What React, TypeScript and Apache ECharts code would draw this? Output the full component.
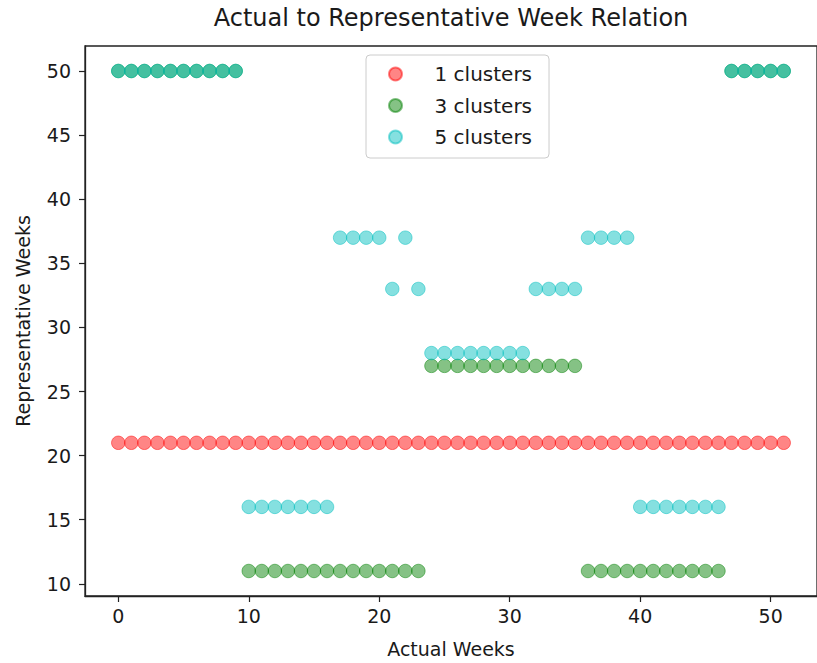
import React, { useEffect, useRef } from "react";
import * as echarts from "echarts";

// Actual week index (x) for every sample
const actualWeeks = [
  0, 1, 2, 3, 4, 5, 6, 7, 8, 9, 10, 11, 12, 13, 14, 15, 16, 17, 18, 19, 20, 21, 22, 23, 24, 25,
  26, 27, 28, 29, 30, 31, 32, 33, 34, 35, 36, 37, 38, 39, 40, 41, 42, 43, 44, 45, 46, 47, 48, 49, 50, 51,
];

// Representative week assigned to each actual week
const oneCluster = [
  21, 21, 21, 21, 21, 21, 21, 21, 21, 21, 21, 21, 21, 21, 21, 21, 21, 21, 21, 21, 21, 21, 21, 21, 21, 21,
  21, 21, 21, 21, 21, 21, 21, 21, 21, 21, 21, 21, 21, 21, 21, 21, 21, 21, 21, 21, 21, 21, 21, 21, 21, 21,
];
const threeClusters = [
  50, 50, 50, 50, 50, 50, 50, 50, 50, 50, 11, 11, 11, 11, 11, 11, 11, 11, 11, 11, 11, 11, 11, 11, 27, 27,
  27, 27, 27, 27, 27, 27, 27, 27, 27, 27, 11, 11, 11, 11, 11, 11, 11, 11, 11, 11, 11, 50, 50, 50, 50, 50,
];
const fiveClusters = [
  50, 50, 50, 50, 50, 50, 50, 50, 50, 50, 16, 16, 16, 16, 16, 16, 16, 37, 37, 37, 37, 33, 37, 33, 28, 28,
  28, 28, 28, 28, 28, 28, 33, 33, 33, 33, 37, 37, 37, 37, 16, 16, 16, 16, 16, 16, 16, 50, 50, 50, 50, 50,
];

const seriesNames = ["1 clusters", "3 clusters", "5 clusters"];
const seriesValues = [oneCluster, threeClusters, fiveClusters];
const seriesColors = ["rgba(255,0,0,0.6)", "rgba(0,128,0,0.6)", "rgba(0,191,191,0.6)"];

const xTicks = [0, 10, 20, 30, 40, 50];
const yTicks = [10, 15, 20, 25, 30, 35, 40, 45, 50];

const FONT = "DejaVu Sans";
const INK = "#1a1a1a";

export default function App() {
  const ref = useRef<HTMLDivElement>(null);

  useEffect(() => {
    if (!ref.current) return;
    const chart = echarts.init(ref.current, undefined, { renderer: "svg" });

    const series = seriesNames.map((name, s) => ({
      name,
      type: "scatter",
      symbol: "circle",
      symbolSize: 13.5,
      itemStyle: {
        color: seriesColors[s],
        borderColor: seriesColors[s],
        borderWidth: 1,
      },
      data: actualWeeks.map((w, i) => [w, seriesValues[s][i]]),
    }));

    const tickStyle = { color: "#222", width: 1.2 };

    chart.setOption({
      animation: false,
      backgroundColor: "#ffffff",
      textStyle: { fontFamily: FONT },
      title: {
        text: "Actual to Representative Week Relation",
        left: 451,
        top: 6,
        padding: 0,
        textAlign: "center",
        textStyle: { fontFamily: FONT, fontSize: 24, fontWeight: "normal", color: INK },
      },
      legend: {
        orient: "vertical",
        left: 366,
        top: 55,
        padding: [9, 17, 11, 22],
        itemGap: 11.5,
        itemWidth: 24,
        itemHeight: 13,
        icon: "circle",
        backgroundColor: "rgba(255,255,255,0.8)",
        borderColor: "#cccccc",
        borderWidth: 1,
        borderRadius: 4,
        textStyle: {
          fontFamily: FONT,
          fontSize: 20,
          color: INK,
          lineHeight: 18,
          padding: [0, 0, 0, 22],
        },
        data: seriesNames,
      },
      grid: {
        left: 85,
        top: 46,
        right: -12,
        bottom: 57,
        show: true,
        borderColor: "#222",
        borderWidth: 1.3,
        backgroundColor: "transparent",
      },
      xAxis: {
        type: "value",
        min: -2.55,
        max: 53.55,
        name: "Actual Weeks",
        nameLocation: "middle",
        nameGap: 43,
        nameTextStyle: { fontFamily: FONT, fontSize: 19, color: INK },
        axisLine: { show: true, onZero: false, lineStyle: { color: "#222", width: 1.3 } },
        splitLine: { show: false },
        axisTick: {
          show: true,
          inside: false,
          length: 6,
          lineStyle: tickStyle,
          customValues: xTicks,
        },
        axisLabel: {
          fontFamily: FONT,
          fontSize: 19,
          color: INK,
          margin: 10,
          customValues: xTicks,
        },
      },
      yAxis: {
        type: "value",
        min: 9.05,
        max: 51.95,
        name: "Representative Weeks",
        nameLocation: "middle",
        nameGap: 53,
        nameTextStyle: { fontFamily: FONT, fontSize: 19, color: INK },
        axisLine: { show: true, onZero: false, lineStyle: { color: "#222", width: 1.3 } },
        splitLine: { show: false },
        axisTick: {
          show: true,
          inside: false,
          length: 6,
          lineStyle: tickStyle,
          customValues: yTicks,
        },
        axisLabel: {
          fontFamily: FONT,
          fontSize: 19,
          color: INK,
          margin: 14,
          customValues: yTicks,
        },
      },
      series,
    });

    return () => chart.dispose();
  }, []);

  return (
    <div
      ref={ref}
      style={{ position: "fixed", left: 0, top: 0, width: 817, height: 663, background: "#fff" }}
    />
  );
}
